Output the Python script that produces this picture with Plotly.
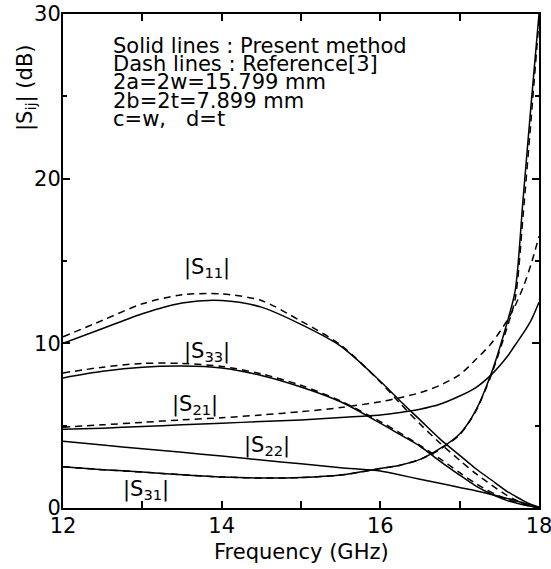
import plotly.graph_objects as go

# ---------------- data ----------------
freq = [12, 12.5, 13, 13.5, 14, 14.5, 15, 15.5, 16, 16.25, 16.5, 16.75,
        17, 17.2, 17.4, 17.6, 17.7, 17.8, 17.9, 18]

s11_present = [10.0, 10.9, 11.8, 12.45, 12.6, 12.2, 11.15, 9.83, 7.7, 6.5, 5.35, 4.2,
               3.2, 2.4, 1.7, 1.0, 0.72, 0.45, 0.22, 0.05]
s11_ref = [10.4, 11.4, 12.4, 12.95, 13.0, 12.6, 11.35, 9.9, 7.65, 6.35, 5.1, 3.95,
           2.9, 2.1, 1.4, 0.75, 0.5, 0.28, 0.1, 0.0]

s33_present = [7.9, 8.3, 8.55, 8.62, 8.5, 8.05, 7.35, 6.45, 5.15, 4.45, 3.75, 2.85,
               2.0, 1.35, 0.85, 0.45, 0.32, 0.2, 0.1, 0.03]
s33_ref = [8.2, 8.55, 8.78, 8.78, 8.6, 8.15, 7.45, 6.5, 5.25, 4.55, 3.8, 3.0,
           2.15, 1.5, 0.95, 0.52, 0.36, 0.22, 0.1, 0.02]

s21_present = [4.78, 4.85, 4.95, 5.05, 5.15, 5.25, 5.35, 5.5, 5.65, 5.8, 6.0, 6.3,
               6.8, 7.3, 8.1, 9.2, 9.9, 10.6, 11.4, 12.5]
s21_ref = [4.9, 5.05, 5.2, 5.35, 5.48, 5.65, 5.85, 6.1, 6.45, 6.7, 7.0, 7.45,
           8.1, 9.0, 10.0, 11.4, 12.3, 13.4, 14.8, 16.5]

s22_present = [4.05, 3.82, 3.6, 3.38, 3.16, 2.92, 2.68, 2.45, 2.25, 2.0, 1.75, 1.5,
               1.25, 1.05, 0.82, 0.58, 0.45, 0.32, 0.18, 0.05]

s31_present = [2.5, 2.33, 2.18, 2.02, 1.88, 1.82, 1.85, 2.0, 2.4, 2.6, 2.95, 3.6,
               4.5, 5.9, 8.2, 11.3, 13.2, 18.8, 24.5, 30.0]
s31_ref = [2.5, 2.33, 2.18, 2.02, 1.88, 1.82, 1.85, 2.0, 2.4, 2.6, 2.95, 3.55,
           4.45, 5.85, 8.1, 11.0, 12.7, 17.8, 23.6, 29.6]

series_labels = ["|S<sub>11</sub>|", "|S<sub>33</sub>|", "|S<sub>21</sub>|",
                 "|S<sub>22</sub>|", "|S<sub>31</sub>|"]
label_freq = [13.82, 13.81, 13.66, 14.57, 13.05]
label_val = [14.6, 9.47, 6.25, 3.76, 1.09]

info_lines = ["Solid lines : Present method",
              "Dash lines : Reference[3]",
              "2a=2w=15.799 mm",
              "2b=2t=7.899 mm",
              "c=w,\u00a0\u00a0\u00a0d=t"]

x_title = "Frequency (GHz)"
y_title = "|S<sub>ij</sub>| (dB)"

# ---------------- figure ----------------
FONT = "DejaVu Sans, Verdana, sans-serif"
FS = 21
fig = go.Figure()

solid = dict(color="black", width=1.5, shape="spline", smoothing=0.8)
dashed = dict(color="black", width=1.5, shape="spline", smoothing=0.8, dash="7px,5px")

for ys, st in [(s11_ref, dashed), (s33_ref, dashed), (s21_ref, dashed), (s31_ref, dashed),
               (s11_present, solid), (s33_present, solid), (s21_present, solid),
               (s22_present, solid), (s31_present, solid)]:
    fig.add_trace(go.Scatter(x=freq, y=ys, mode="lines", line=st,
                             showlegend=False, hoverinfo="skip"))

for txt, fx, fy in zip(series_labels, label_freq, label_val):
    fig.add_annotation(x=fx, y=fy, xref="x", yref="y", text=txt, showarrow=False,
                       xanchor="center", yanchor="middle",
                       font=dict(family=FONT, size=FS, color="black"))

for i, line in enumerate(info_lines):
    fig.add_annotation(x=0.101, y=0.935 - i * 0.0368, xref="paper", yref="paper",
                       text=line, showarrow=False, xanchor="left", yanchor="middle",
                       font=dict(family=FONT, size=FS, color="black"))

fig.add_annotation(x=0.5, y=-0.089, xref="paper", yref="paper", text=x_title,
                   showarrow=False, xanchor="center", yanchor="middle",
                   font=dict(family=FONT, size=FS, color="black"))
fig.add_annotation(x=-0.078, y=0.85, xref="paper", yref="paper", text=y_title,
                   showarrow=False, textangle=-90, xanchor="center", yanchor="middle",
                   font=dict(family=FONT, size=FS, color="black"))

axis_common = dict(showline=True, linecolor="black", linewidth=2, mirror="ticks",
                   ticks="inside", tickcolor="black", tickwidth=1.5, showgrid=False,
                   zeroline=False, automargin=False, ticklabeloverflow="allow",
                   tickfont=dict(family=FONT, size=FS, color="black"))

fig.update_xaxes(range=[12, 18], tick0=12, dtick=2, ticklen=7, ticklabelstandoff=-2,
                 minor=dict(dtick=1, ticks="inside", ticklen=7, tickcolor="black",
                            tickwidth=1.5, showgrid=False),
                 **axis_common)
fig.update_yaxes(range=[0, 30], tick0=0, dtick=10, ticklen=7, ticklabelstandoff=-4,
                 minor=dict(dtick=5, ticks="inside", ticklen=4, tickcolor="black",
                            tickwidth=1.5, showgrid=False),
                 **axis_common)

fig.update_layout(width=551, height=569, margin=dict(l=63, r=12, t=14, b=61),
                  plot_bgcolor="white", paper_bgcolor="white",
                  font=dict(family=FONT, color="black"))

fig.write_html("out.html", config={"displayModeBar": False},
               post_script="document.body.style.margin='0';"
                           "document.body.style.overflow='hidden';")
